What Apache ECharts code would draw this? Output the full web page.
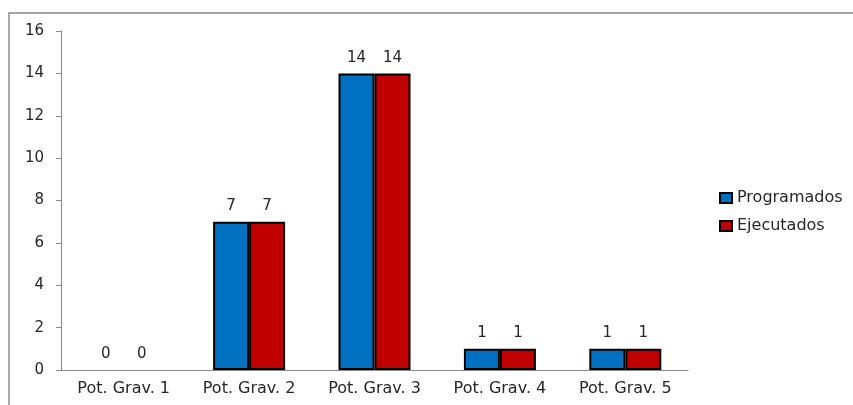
<!DOCTYPE html>
<html>
<head>
<meta charset="utf-8">
<script src="https://cdn.jsdelivr.net/npm/echarts@6/dist/echarts.min.js"></script>
<style>
  html, body { margin: 0; padding: 0; background: #fff; }
  #chart { width: 853px; height: 405px; }
</style>
</head>
<body>
<div id="chart"></div>
<script>
const categories = ['Pot. Grav. 1', 'Pot. Grav. 2', 'Pot. Grav. 3', 'Pot. Grav. 4', 'Pot. Grav. 5']
const programados = [0, 7, 14, 1, 1]
const ejecutados = [0, 7, 14, 1, 1]
const seriesNames = ['Programados', 'Ejecutados']

const font = '"DejaVu Sans", Verdana, sans-serif'
const textColor = '#262626'
const chart = echarts.init(document.getElementById('chart'))

// 值为0的柱子不画边框
const toItems = (arr) => arr.map(v => v === 0 ? { value: v, itemStyle: { borderWidth: 0 } } : v)

const barSeries = (name, data, color) => ({
  name,
  type: 'bar',
  data: toItems(data),
  barWidth: 36,
  barGap: '0%',
  itemStyle: { color, borderColor: '#000', borderWidth: 2 },
  label: {
    show: true,
    position: 'top',
    distance: 8,
    color: textColor,
    fontSize: 15,
    fontFamily: font
  }
})

chart.setOption({
  backgroundColor: '#fff',
  animation: false,
  // 外框
  graphic: [{
    type: 'rect',
    shape: { x: 9, y: 13, width: 900, height: 500 },
    style: { fill: 'none', stroke: '#8a8a8a', lineWidth: 1.5 }
  }],
  grid: { left: 61, right: 165, top: 31, bottom: 35 },
  legend: {
    orient: 'vertical',
    left: 719,
    top: 190,
    padding: 0,
    itemWidth: 12,
    itemHeight: 10,
    itemGap: 12,
    icon: 'rect',
    textStyle: { fontSize: 16, color: textColor, fontFamily: font },
    data: seriesNames
  },
  xAxis: {
    type: 'category',
    data: categories,
    axisLine: { lineStyle: { color: '#8a8a8a' } },
    axisTick: { length: 5, lineStyle: { color: '#8a8a8a' } },
    axisLabel: { color: textColor, fontSize: 16, fontFamily: font, margin: 11 }
  },
  yAxis: {
    type: 'value',
    min: 0,
    max: 16,
    interval: 2,
    splitLine: { show: false },
    axisLine: { show: true, lineStyle: { color: '#8a8a8a' } },
    axisTick: { show: true, length: 5, lineStyle: { color: '#8a8a8a' } },
    axisLabel: { color: textColor, fontSize: 15, fontFamily: font, margin: 17 }
  },
  series: [
    barSeries(seriesNames[0], programados, '#0070C0'),
    barSeries(seriesNames[1], ejecutados, '#C00000')
  ]
})
</script>
</body>
</html>
